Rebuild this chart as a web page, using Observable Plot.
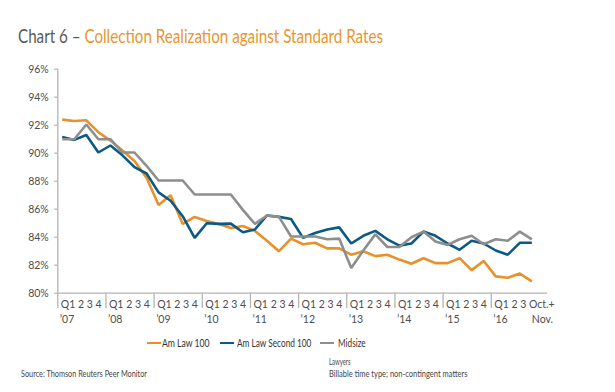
<!DOCTYPE html>
<html>
<head>
<meta charset="utf-8">
<script src="https://cdn.jsdelivr.net/npm/d3@7"></script>
<script src="https://cdn.jsdelivr.net/npm/@observablehq/plot@0.6"></script>
<style>
html, body { margin: 0; padding: 0; background: #fff; }
#wrap { position: relative; width: 615px; height: 392px; overflow: hidden; font-family: Lato, "Open Sans", sans-serif; }
.abs { position: absolute; white-space: nowrap; transform-origin: 0 50%; }
#title { left: 18.3px; top: 26px; font-size: 19px; line-height: 19px; color: #e8962e; }
#title .lead { color: #5a5a5a; }
#chart { position: absolute; left: 0; top: 60px; }
.leg { font-size: 10.5px; line-height: 12px; color: #333; top: 337px; }
.sw { position: absolute; height: 2.6px; top: 341.7px; }
.foot { font-size: 9.5px; line-height: 11px; color: #444; }
</style>
</head>
<body>
<div id="wrap">
  <div id="title" class="abs" data-w="365"><span class="lead">Chart 6 – </span>Collection Realization against Standard Rates</div>
  <div id="chart"></div>
  <div id="legend"></div>
  <div class="abs foot" style="left:20.7px; top:367.8px;" data-w="126">Source: Thomson Reuters Peer Monitor</div>
  <div class="abs foot" style="left:329.3px; top:356.3px;" data-w="21.5">Lawyers</div>
  <div class="abs foot" style="left:329.3px; top:367.8px;" data-w="138.4">Billable time type; non-contingent matters</div>
</div>
<script>
// ---- data (quarterly, 2007 Q1 ... 2016 Q3, Oct.+Nov. 2016) ----
const amLaw100 = [92.4, 92.3, 92.35, 91.5, 90.9, 90.2, 89.45, 88.25, 86.3, 87.0, 84.95, 85.45, 85.15, 84.95, 84.65, 84.8,
  84.45, 83.75, 83.0, 83.9, 83.5, 83.6, 83.2, 83.2, 82.75, 83.0, 82.65, 82.75, 82.4, 82.1, 82.5, 82.15,
  82.15, 82.5, 81.65, 82.3, 81.2, 81.1, 81.4, 80.85];
const amLawSecond100 = [91.15, 90.95, 91.3, 90.05, 90.55, 89.85, 89.0, 88.55, 87.2, 86.6, 85.5, 83.95, 85.0, 84.95, 84.97, 84.35,
  84.55, 85.55, 85.45, 85.3, 83.95, 84.3, 84.55, 84.7, 83.55, 84.1, 84.45, 83.85, 83.4, 83.55, 84.4, 84.1,
  83.55, 83.1, 83.75, 83.55, 83.05, 82.75, 83.6, 83.6];
const midsize = [91.0, 91.0, 92.05, 91.0, 91.0, 90.05, 90.05, 89.1, 88.05, 88.05, 88.05, 87.05, 87.05, 87.05, 87.05, 85.95,
  84.95, 85.55, 85.45, 84.05, 84.05, 84.05, 83.85, 83.9, 81.8, 83.05, 84.2, 83.3, 83.3, 84.0, 84.4, 83.7,
  83.45, 83.85, 84.1, 83.5, 83.85, 83.75, 84.4, 83.85];
const seriesNames = ["Am Law 100", "Am Law Second 100", "Midsize"];
const seriesColors = ["#e8912a", "#0b5a84", "#8e8e8e"];
const yearLabels = ["’07", "’08", "’09", "’10", "’11", "’12", "’13", "’14", "’15", "’16"];
const quarterLabels = ["Q1 2 3 4", "Q1 2 3 4", "Q1 2 3 4", "Q1 2 3 4", "Q1 2 3 4", "Q1 2 3 4", "Q1 2 3 4", "Q1 2 3 4", "Q1 2 3 4", "Q1 2 3 Oct.+"];
const lastPeriodSecondLine = "Nov.";
const yTicks = [80, 82, 84, 86, 88, 90, 92, 94, 96];

// ---- layout constants ----
const pointOffset = 0.37;      // where a quarter's value sits inside its slot
const axisGray = "#b4b4b4";
const valuesList = [amLaw100, amLawSecond100, midsize];
const rows = valuesList.map(vals => vals.map((v, i) => ({x: i + pointOffset, v})));
const yearStart = yearLabels.map((_, k) => 4 * k);
const lastX = amLaw100.length - 1 + pointOffset;

const chart = Plot.plot({
  width: 615, height: 270,
  marginTop: 8.7, marginBottom: 37.3, marginLeft: 57.3, marginRight: 68,
  x: {domain: [0, 40.67]},
  y: {domain: [80, 96]},
  style: {fontFamily: "Lato, 'Open Sans', sans-serif", fontSize: "10.5px", color: "#4d4d4d", background: "transparent", overflow: "visible"},
  marks: [
    Plot.axisX(yearStart, {tickSize: 15.3, tickFormat: () => "", stroke: axisGray, strokeWidth: 1.3, label: null}),
    Plot.axisY(yTicks, {tickSize: 3, tickPadding: 6, tickFormat: d => d + "%", stroke: axisGray, fill: "#4d4d4d", strokeWidth: 1.3, label: null}),
    Plot.ruleY([80], {stroke: axisGray, strokeWidth: 1.3}),
    Plot.ruleX([0], {stroke: axisGray, strokeWidth: 1.3}),
    Plot.text(yearStart, {x: d => d, y: 80, text: (d, i) => quarterLabels[i], dx: 3, dy: 11.3, textAnchor: "start", fill: "#4d4d4d"}),
    Plot.text(yearStart, {x: d => d, y: 80, text: (d, i) => yearLabels[i], dx: 2, dy: 26.3, textAnchor: "start", fill: "#4d4d4d"}),
    Plot.text([lastPeriodSecondLine], {x: lastX, y: 80, text: d => d, dy: 26.3, textAnchor: "start", fill: "#4d4d4d"}),
    ...rows.map((r, k) => Plot.line(r, {x: "x", y: "v", stroke: seriesColors[k], strokeWidth: 2.6, strokeLinejoin: "miter", strokeLinecap: "butt"}))
  ]
});
document.getElementById("chart").appendChild(chart);

// ---- legend ----
const legendPos = [
  {sw: 147, text: 161.7, w: 47.6},
  {sw: 220, text: 237.3, w: 74.4},
  {sw: 320, text: 338.3, w: 27.7}
];
const legend = document.getElementById("legend");
seriesNames.forEach((name, k) => {
  const sw = document.createElement("div");
  sw.className = "sw";
  sw.style.left = legendPos[k].sw + "px";
  sw.style.width = "13.5px";
  sw.style.background = seriesColors[k];
  legend.appendChild(sw);
  const t = document.createElement("div");
  t.className = "abs leg";
  t.style.left = legendPos[k].text + "px";
  t.dataset.w = legendPos[k].w;
  t.textContent = name;
  legend.appendChild(t);
});

// ---- fit condensed text widths ----
document.querySelectorAll("[data-w]").forEach(el => {
  const w = el.getBoundingClientRect().width;
  if (w > 0) el.style.transform = `scaleX(${(+el.dataset.w) / w})`;
});
</script>
</body>
</html>
